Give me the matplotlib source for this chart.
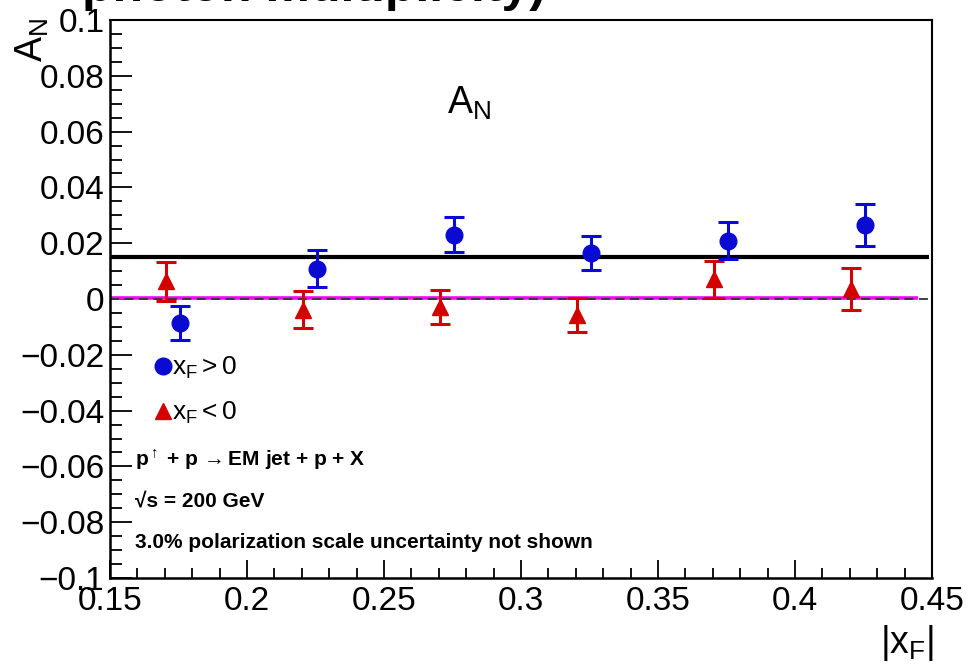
import matplotlib
matplotlib.use("Agg")
import matplotlib.pyplot as plt
from matplotlib.lines import Line2D
from matplotlib.ticker import FixedLocator, MultipleLocator

plt.rcParams['font.family'] = ['Liberation Sans', 'DejaVu Sans']
plt.rcParams['mathtext.fontset'] = 'custom'
plt.rcParams['mathtext.rm'] = 'Liberation Sans'
plt.rcParams['mathtext.it'] = 'Liberation Sans'
plt.rcParams['mathtext.bf'] = 'Liberation Sans:bold'

# data
xf_pos = [0.1755, 0.2255, 0.2755, 0.3255, 0.3755, 0.4255]
an_pos = [-0.0085, 0.0108, 0.0231, 0.0164, 0.0209, 0.0266]
err_pos = [0.0061, 0.0066, 0.0063, 0.0061, 0.0066, 0.0075]

xf_neg = [0.1705, 0.2205, 0.2705, 0.3205, 0.3705, 0.4205]
an_neg = [0.0063, -0.0039, -0.0029, -0.0058, 0.0071, 0.0035]
err_neg = [0.0069, 0.0066, 0.0061, 0.0062, 0.0066, 0.0075]

fit_pos = 0.0150
fit_neg = 0.0005
fit_pos_range = [0.15, 0.449]
fit_neg_range = [0.15, 0.445]

yticks = [-0.1, -0.08, -0.06, -0.04, -0.02, 0, 0.02, 0.04, 0.06, 0.08, 0.1]
ylabels = ['\u22120.1', '\u22120.08', '\u22120.06', '\u22120.04', '\u22120.02', '0',
           '0.02', '0.04', '0.06', '0.08', '0.1']
xticks = [0.15, 0.2, 0.25, 0.3, 0.35, 0.4, 0.45]
xlabels = ['0.15', '0.2', '0.25', '0.3', '0.35', '0.4', '0.45']

blue = '#0a0ad2'
red = '#d40000'

W, H = 971, 672
fig = plt.figure(figsize=(W / 100, H / 100), dpi=100)
ax = fig.add_axes([110 / W, 1 - 578 / H, 822 / W, 558 / H])

ax.hlines(fit_neg, fit_neg_range[0], fit_neg_range[1], color='#ff00ff', lw=2.6, zorder=2)
ax.axhline(0, color='#333333', lw=1.3, ls=(0, (5, 3)), zorder=2.5)
ax.hlines(fit_pos, fit_pos_range[0], fit_pos_range[1], color='black', lw=3, zorder=2)

ax.errorbar(xf_pos, an_pos, yerr=err_pos, fmt='o', color=blue, ms=12,
            elinewidth=2.2, capsize=7, capthick=2.2, zorder=4)
ax.errorbar(xf_neg, an_neg, yerr=err_neg, fmt='^', color=red, ms=12,
            elinewidth=2.2, capsize=7, capthick=2.2, zorder=3)

ax.set_xlim(0.15, 0.45)
ax.set_ylim(-0.1, 0.1)
ax.yaxis.set_major_locator(FixedLocator(yticks))
ax.set_yticklabels(ylabels)
ax.yaxis.set_minor_locator(MultipleLocator(0.005))
ax.xaxis.set_major_locator(FixedLocator(xticks))
ax.set_xticklabels(xlabels)
ax.xaxis.set_minor_locator(MultipleLocator(0.01))

ax.tick_params(axis='both', which='both', direction='in', top=False, right=False, labelsize=24)
ax.tick_params(axis='y', which='major', length=16, width=1.3, pad=4)
ax.tick_params(axis='y', which='minor', length=8.5, width=1.3)
ax.tick_params(axis='x', which='major', length=13, width=1.3, pad=6)
ax.tick_params(axis='x', which='minor', length=7, width=1.3)
for side in ['left', 'bottom']:
    ax.spines[side].set_linewidth(1.8)
for side in ['top', 'right']:
    ax.spines[side].set_linewidth(1.5)

# axis titles, ROOT style
fig.text(14 / W, 1 - 18 / H, r'$\mathrm{A_N}$', rotation=90, fontsize=27,
         ha='left', va='top')
fig.text(934 / W, 1 - 653 / H, r'$\mathrm{|x_F|}$', fontsize=27, ha='right', va='baseline')
ax.text(0.41, 0.85, r'$\mathrm{A_N}$', transform=ax.transAxes, fontsize=27,
        ha='left', va='center')

# cut-off title
fig.text(82 / W, 1 - 1 / H, 'photon multiplicity)', fontsize=36, fontweight='bold',
         ha='left', va='baseline')

handles = [Line2D([], [], ls='none', marker='o', color=blue, ms=12),
           Line2D([], [], ls='none', marker='^', color=red, ms=12)]
ax.legend(handles, [r'$\mathrm{x_F > 0}$', r'$\mathrm{x_F < 0}$'], loc='upper left',
          bbox_to_anchor=(155 / W, 1 - 355 / H), bbox_transform=fig.transFigure,
          frameon=False, fontsize=19, handlelength=0.6, handletextpad=0.05,
          labelspacing=0.72, borderpad=0, borderaxespad=0)

ax.text(135 / W, 1 - 460 / H, 'p$^{\\uparrow}$ + p $\\!\\rightarrow$EM jet + p + X',
        transform=fig.transFigure, fontsize=15, fontweight='bold', va='center')
ax.text(135 / W, 1 - 502 / H, '\u221as = 200 GeV', transform=fig.transFigure,
        fontsize=15, fontweight='bold', va='center')
ax.text(135 / W, 1 - 543 / H, '3.0% polarization scale uncertainty not shown',
        transform=fig.transFigure, fontsize=15, fontweight='bold', va='center')

fig.savefig('out.png', dpi=100)
